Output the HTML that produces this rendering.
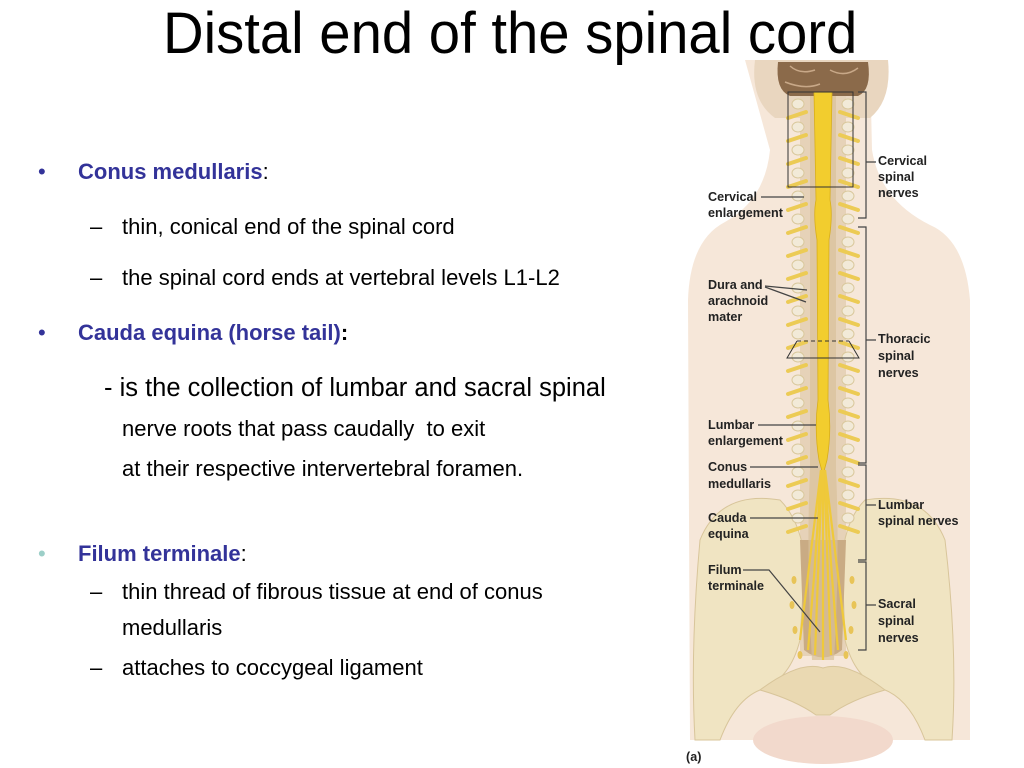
<!DOCTYPE html>
<html><head><meta charset="utf-8">
<style>
body{margin:0;background:#fff;}
#p{position:relative;width:1024px;height:768px;overflow:hidden;background:#fff;font-family:"Liberation Sans",Arial,sans-serif;}
.t{position:absolute;white-space:nowrap;line-height:1;color:#000;}
.b{color:#333399;font-weight:bold;}
svg{position:absolute;left:0;top:0;}
.lb{font-family:"Liberation Sans",Arial,sans-serif;font-weight:bold;font-size:12.6px;fill:#222;}
</style></head><body><div id="p">
<svg width="1024" height="768" viewBox="0 0 1024 768">
<!-- body silhouette -->
<path d="M745 60 L870 60 L872 150 Q880 200 930 225 Q965 240 970 300 L970 740 L690 740 L688 300 Q690 240 725 222 Q765 200 770 150 Z" fill="#f6e7d9"/>
<path d="M755 60 Q750 100 775 118 L870 118 Q892 100 888 60 Z" fill="#e9d6bf"/>
<path d="M778 62 L868 62 Q872 90 858 96 L790 96 Q775 90 778 62 Z" fill="#8b6a4a"/>
<path d="M790 66 Q800 75 815 70 M830 70 Q845 78 858 68 M785 82 Q805 90 820 84" stroke="#c8a888" fill="none" stroke-width="1.5"/>
<rect x="800" y="96" width="46" height="560" fill="#e6d2b8"/>
<!-- pelvis -->
<path d="M700 540 Q720 490 780 500 Q800 520 805 560 L800 640 Q790 680 760 690 Q735 700 720 740 L695 740 Q690 650 700 540 Z" fill="#f0e4c2" stroke="#d8c59a"/>
<path d="M945 540 Q925 490 865 500 Q845 520 842 560 L845 640 Q855 680 885 690 Q910 700 925 740 L952 740 Q958 650 945 540 Z" fill="#f0e4c2" stroke="#d8c59a"/>
<path d="M800 540 L846 540 L842 650 Q823 665 804 650 Z" fill="#c9ab84"/>
<path d="M760 690 Q800 660 823 668 Q846 660 885 690 Q850 700 830 715 L816 715 Q795 700 760 690 Z" fill="#ead9b2" stroke="#d8c59a"/>
<ellipse cx="823" cy="740" rx="70" ry="24" fill="#f2d9cc"/>
<g fill="#f2ead8" stroke="#d9c89c" stroke-width="1">
<ellipse cx="798" cy="104" rx="6" ry="5"/><ellipse cx="848" cy="104" rx="6" ry="5"/>
<ellipse cx="798" cy="127" rx="6" ry="5"/><ellipse cx="848" cy="127" rx="6" ry="5"/>
<ellipse cx="798" cy="150" rx="6" ry="5"/><ellipse cx="848" cy="150" rx="6" ry="5"/>
<ellipse cx="798" cy="173" rx="6" ry="5"/><ellipse cx="848" cy="173" rx="6" ry="5"/>
<ellipse cx="798" cy="196" rx="6" ry="5"/><ellipse cx="848" cy="196" rx="6" ry="5"/>
<ellipse cx="798" cy="219" rx="6" ry="5"/><ellipse cx="848" cy="219" rx="6" ry="5"/>
<ellipse cx="798" cy="242" rx="6" ry="5"/><ellipse cx="848" cy="242" rx="6" ry="5"/>
<ellipse cx="798" cy="265" rx="6" ry="5"/><ellipse cx="848" cy="265" rx="6" ry="5"/>
<ellipse cx="798" cy="288" rx="6" ry="5"/><ellipse cx="848" cy="288" rx="6" ry="5"/>
<ellipse cx="798" cy="311" rx="6" ry="5"/><ellipse cx="848" cy="311" rx="6" ry="5"/>
<ellipse cx="798" cy="334" rx="6" ry="5"/><ellipse cx="848" cy="334" rx="6" ry="5"/>
<ellipse cx="798" cy="357" rx="6" ry="5"/><ellipse cx="848" cy="357" rx="6" ry="5"/>
<ellipse cx="798" cy="380" rx="6" ry="5"/><ellipse cx="848" cy="380" rx="6" ry="5"/>
<ellipse cx="798" cy="403" rx="6" ry="5"/><ellipse cx="848" cy="403" rx="6" ry="5"/>
<ellipse cx="798" cy="426" rx="6" ry="5"/><ellipse cx="848" cy="426" rx="6" ry="5"/>
<ellipse cx="798" cy="449" rx="6" ry="5"/><ellipse cx="848" cy="449" rx="6" ry="5"/>
<ellipse cx="798" cy="472" rx="6" ry="5"/><ellipse cx="848" cy="472" rx="6" ry="5"/>
<ellipse cx="798" cy="495" rx="6" ry="5"/><ellipse cx="848" cy="495" rx="6" ry="5"/>
<ellipse cx="798" cy="518" rx="6" ry="5"/><ellipse cx="848" cy="518" rx="6" ry="5"/>
</g>
<g stroke="#eccb55" stroke-width="4" stroke-linecap="round" fill="none">
<path d="M806 112 L788 118 M840 112 L858 118 M806 135 L788 141 M840 135 L858 141 M806 158 L788 164 M840 158 L858 164 M806 181 L788 187 M840 181 L858 187 M806 204 L788 210 M840 204 L858 210 M806 227 L788 233 M840 227 L858 233 M806 250 L788 256 M840 250 L858 256 M806 273 L788 279 M840 273 L858 279 M806 296 L788 302 M840 296 L858 302 M806 319 L788 325 M840 319 L858 325 M806 342 L788 348 M840 342 L858 348 M806 365 L788 371 M840 365 L858 371 M806 388 L788 394 M840 388 L858 394 M806 411 L788 417 M840 411 L858 417 M806 434 L788 440 M840 434 L858 440 M806 457 L788 463 M840 457 L858 463 M806 480 L788 486 M840 480 L858 486 M806 503 L788 509 M840 503 L858 509 M806 526 L788 532 M840 526 L858 532"/>
</g>
<g fill="#e8c458">
<ellipse cx="794" cy="580" rx="2.5" ry="4"/><ellipse cx="852" cy="580" rx="2.5" ry="4"/>
<ellipse cx="792" cy="605" rx="2.5" ry="4"/><ellipse cx="854" cy="605" rx="2.5" ry="4"/>
<ellipse cx="795" cy="630" rx="2.5" ry="4"/><ellipse cx="851" cy="630" rx="2.5" ry="4"/>
<ellipse cx="800" cy="655" rx="2.5" ry="4"/><ellipse cx="846" cy="655" rx="2.5" ry="4"/>
</g>
<path d="M810 96 L836 96 L836 470 Q840 560 834 660 L812 660 Q806 560 810 470 Z" fill="#d9c09a" opacity="0.7"/>
<path d="M814 92 L832 92 L830 200 Q833 215 829 240 L828 400 Q832 430 827 460 L823 475 L819 460 Q814 430 818 400 L817 240 Q813 215 816 200 Z" fill="#f2cd2e" stroke="#d8ae1a" stroke-width="0.8"/>
<g stroke="#efc93a" stroke-width="2.2" fill="none">
<path d="M821 470 Q812 540 800 640"/><path d="M825 470 Q834 540 846 640"/>
<path d="M821 470 Q816 560 808 650"/><path d="M825 470 Q830 560 838 650"/>
<path d="M822 470 Q819 560 815 655"/><path d="M824 470 Q827 560 831 655"/>
<path d="M823 470 L823 660"/>
</g>
<rect x="788" y="92" width="65" height="95" fill="none" stroke="#333" stroke-width="1"/>
<path d="M797 341 L849 341" stroke="#333" stroke-dasharray="4,3"/>
<path d="M797 341 L787 358 L859 358 L849 341" stroke="#333" fill="none"/>
<g stroke="#444" stroke-width="1.2" fill="none">
<path d="M858 92 L866 92 L866 218 L858 218 M866 162 L876 162"/>
<path d="M858 227 L866 227 L866 463 L858 463 M866 340 L876 340"/>
<path d="M858 465 L866 465 L866 560 L858 560 M866 505 L876 505"/>
<path d="M858 562 L866 562 L866 650 L858 650 M866 605 L876 605"/>
<path d="M761 197 L804 197"/>
<path d="M765 286 L807 290 M765 287 L806 302"/>
<path d="M758 425 L816 425"/>
<path d="M750 467 L818 467"/>
<path d="M750 518 L818 518"/>
<path d="M743 570 L769 570 L820 632"/>
</g>
<g class="lb">
<text x="878" y="165">Cervical</text><text x="878" y="181">spinal</text><text x="878" y="197">nerves</text>
<text x="708" y="201">Cervical</text><text x="708" y="217">enlargement</text>
<text x="708" y="289">Dura and</text><text x="708" y="305">arachnoid</text><text x="708" y="321">mater</text>
<text x="878" y="343">Thoracic</text><text x="878" y="360">spinal</text><text x="878" y="377">nerves</text>
<text x="708" y="429">Lumbar</text><text x="708" y="445">enlargement</text>
<text x="708" y="471">Conus</text><text x="708" y="488">medullaris</text>
<text x="878" y="509">Lumbar</text><text x="878" y="525">spinal nerves</text>
<text x="708" y="522">Cauda</text><text x="708" y="538">equina</text>
<text x="708" y="574">Filum</text><text x="708" y="590">terminale</text>
<text x="878" y="608">Sacral</text><text x="878" y="625">spinal</text><text x="878" y="642">nerves</text>
<text x="686" y="761">(a)</text>
</g>
</svg>
<div class="t" style="left:163px;top:5px;font-size:58px;transform:scaleX(0.97);transform-origin:0 0;">Distal end of the spinal cord</div>
<div class="t" style="left:38px;top:161px;font-size:22px;color:#333399;">•</div>
<div class="t" style="left:78px;top:161px;font-size:22px;"><span class="b">Conus medullaris</span>:</div>
<div class="t" style="left:90px;top:216px;font-size:22px;">–</div>
<div class="t" style="left:122px;top:216px;font-size:22px;">thin, conical end of the spinal cord</div>
<div class="t" style="left:90px;top:267px;font-size:22px;">–</div>
<div class="t" style="left:122px;top:267px;font-size:22px;">the spinal cord ends at vertebral levels L1-L2</div>
<div class="t" style="left:38px;top:322px;font-size:22px;color:#333399;">•</div>
<div class="t" style="left:78px;top:322px;font-size:22px;"><span class="b">Cauda equina (horse tail)</span><b>:</b></div>
<div class="t" style="left:104px;top:376px;font-size:25.5px;">- is the collection of lumbar and sacral spinal</div>
<div class="t" style="left:122px;top:418px;font-size:22px;">nerve roots that pass caudally&nbsp; to exit</div>
<div class="t" style="left:122px;top:458px;font-size:22px;">at their respective intervertebral foramen.</div>
<div class="t" style="left:38px;top:543px;font-size:22px;color:#9ccfc8;">•</div>
<div class="t" style="left:78px;top:543px;font-size:22px;"><span class="b">Filum terminale</span>:</div>
<div class="t" style="left:90px;top:581px;font-size:22px;">–</div>
<div class="t" style="left:122px;top:581px;font-size:22px;">thin thread of fibrous tissue at end of conus</div>
<div class="t" style="left:122px;top:617px;font-size:22px;">medullaris</div>
<div class="t" style="left:90px;top:657px;font-size:22px;">–</div>
<div class="t" style="left:122px;top:657px;font-size:22px;">attaches to coccygeal ligament</div>
</div></body></html>
